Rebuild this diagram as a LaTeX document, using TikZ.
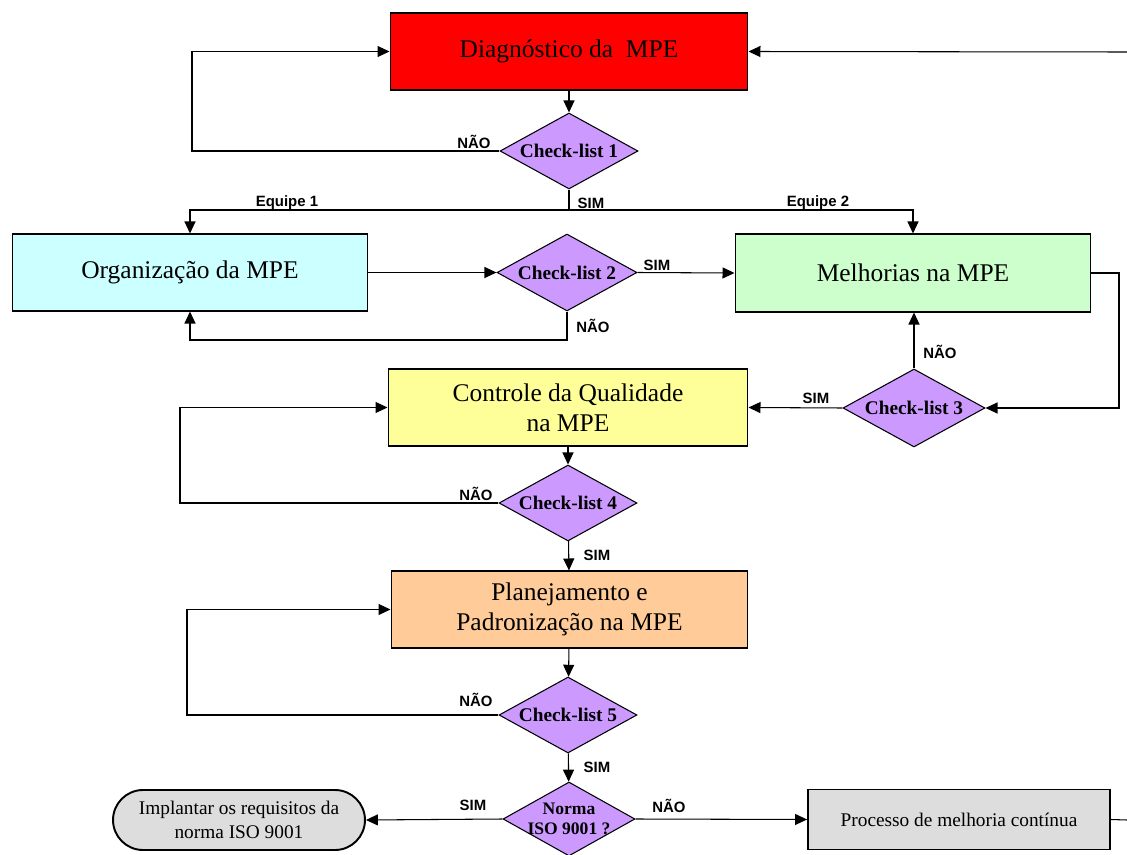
\documentclass[tikz,border=0pt]{standalone}
\usepackage{fontspec}
\setmainfont{Liberation Serif}
\newfontfamily\lblfont{Liberation Sans}
\usetikzlibrary{arrows.meta, shapes.geometric, shapes.misc, positioning}

\definecolor{diagred}{HTML}{FF0000}
\definecolor{orgcyan}{HTML}{CCFFFF}
\definecolor{melgreen}{HTML}{CCFFCC}
\definecolor{ctrlyellow}{HTML}{FFFF99}
\definecolor{planorange}{HTML}{FFCC99}
\definecolor{chkpurple}{HTML}{CC99FF}
\definecolor{endgray}{HTML}{DDDDDD}

\tikzset{
  procbox/.style={draw, line width=0.6pt, inner sep=0pt, align=center, font=\fontsize{14.5}{17}\selectfont},
  chkbox/.style={diamond, draw, line width=0.6pt, fill=chkpurple, inner sep=0pt},
  chktext/.style={inner sep=0pt, align=center, font=\bfseries\fontsize{11}{12}\selectfont},
  endbox/.style={draw, line width=1.1pt, fill=endgray, inner sep=0pt, align=center, minimum height=1.2cm, font=\fontsize{11}{13.5}\selectfont},
  lbl/.style={font=\lblfont\bfseries\fontsize{8.5}{10}\selectfont, inner sep=0pt},
  flow/.style={line width=0.6pt, -{Triangle[length=2.4mm,width=2.2mm]}},
}

\begin{document}
\begin{tikzpicture}[x=0.02cm, y=-0.02cm]
      \useasboundingbox (0,0) rectangle (1127,855);

      % boxes
      \node[procbox, fill=diagred, minimum width=7.16cm, minimum height=1.54cm] (diag) at (569,51.5) {Diagn\'ostico da\ \ MPE};
      \node[procbox, fill=orgcyan, minimum width=7.12cm, minimum height=1.54cm] (org) at (190,272.5) {Organiza\c{c}\~ao da MPE};
      \node[procbox, fill=melgreen, minimum width=7.12cm, minimum height=1.56cm] (mel) at (913,273) {Melhorias na MPE};
      \node[procbox, fill=ctrlyellow, minimum width=7.2cm, minimum height=1.54cm] (ctrl) at (568,407.5) {Controle da Qualidade\\na MPE};
      \node[procbox, fill=planorange, minimum width=7.14cm, minimum height=1.54cm] (plan) at (569.5,609.5) {Planejamento e\\Padroniza\c{c}\~ao na MPE};
      \node[endbox, rounded rectangle, minimum width=5.04cm] (impl) at (239,820) {Implantar os requisitos da\\norma ISO 9001};
      \node[endbox, minimum width=6.04cm] (proc) at (959,819.5) {Processo de melhoria cont\'inua};

      % decisions
      \node[chkbox, minimum width=2.76cm, minimum height=1.52cm, label={[chktext]center:Check-list 1}] (chk1) at (569,151) {};
      \node[chkbox, minimum width=2.8cm, minimum height=1.54cm, label={[chktext]center:Check-list 2}] (chk2) at (567,272.5) {};
      \node[chkbox, minimum width=2.84cm, minimum height=1.56cm, label={[chktext]center:Check-list 3}] (chk3) at (914,408) {};
      \node[chkbox, minimum width=2.76cm, minimum height=1.52cm, label={[chktext]center:Check-list 4}] (chk4) at (568,503) {};
      \node[chkbox, minimum width=2.76cm, minimum height=1.52cm, label={[chktext]center:Check-list 5}] (chk5) at (568,715) {};
      \node[chkbox, minimum width=2.64cm, minimum height=1.48cm, label={[chktext, font=\bfseries\fontsize{10}{11}\selectfont]center:Norma\\ISO 9001 ?}] (norma) at (569,819) {};

      % bends
      \coordinate (loop1) at (192,151);
      \coordinate (split) at (569,210);
      \coordinate (back2) at (567,340);
      \coordinate (melout) at (1119,273);
      \coordinate (loop4) at (180,503);
      \coordinate (loop5) at (187,715);
      \coordinate (edgeR) at (1127,820);
      \coordinate (edgeT) at (1127,52);

      \draw[flow] (diag) -- (chk1);
      \draw[flow] (chk1.west) -- (loop1) |- (diag.west);
      \draw[line width=0.6pt] (chk1.south) -- (split);
      \draw[flow] (split) -| (org.north);
      \draw[flow] (split) -| (mel.north);
      \draw[flow] (org.east) -- (chk2.west);
      \draw[flow] (chk2.east) -- (mel.west);
      \draw[flow] (chk2.south) -- (back2) -| (org.south);
      \draw[flow] (mel.east) -- (melout) |- (chk3.east);
      \draw[flow] (chk3.north) -- (chk3.north |- mel.south);
      \draw[flow] (chk3.west) -- (ctrl.east);
      \draw[flow] (ctrl) -- (chk4);
      \draw[flow] (chk4.west) -- (loop4) |- (ctrl.west);
      \draw[flow] (chk4) -- (plan);
      \draw[flow] (plan) -- (chk5);
      \draw[flow] (chk5.west) -- (loop5) |- (plan.west);
      \draw[flow] (chk5) -- (norma);
      \draw[flow] (norma.west) -- (impl.east);
      \draw[flow] (norma.east) -- (proc.west);
      \draw[line width=0.6pt] (proc.east) -- (edgeR);
      \draw[flow] (edgeT) -- (diag.east);

      % labels
      \node[lbl] (no1) at (474,142) {NÃO};
      \node[lbl] (team1) at (287,203) {Equipe 1};
      \node[lbl] (yes1) at (591,203) {SIM};
      \node[lbl] (team2) at (818,203) {Equipe 2};
      \node[lbl] (yes2) at (657,265) {SIM};
      \node[lbl] (no2) at (593,326) {NÃO};
      \node[lbl] (no3) at (940,352) {NÃO};
      \node[lbl] (yes3) at (816,398) {SIM};
      \node[lbl] (no4) at (476,494) {NÃO};
      \node[lbl] (yes4) at (597,555) {SIM};
      \node[lbl] (no5) at (476,700) {NÃO};
      \node[lbl] (yes5) at (597,767) {SIM};
      \node[lbl] (yes6) at (473,805) {SIM};
      \node[lbl] (no6) at (669,806) {NÃO};
    \end{tikzpicture}
\end{document}
